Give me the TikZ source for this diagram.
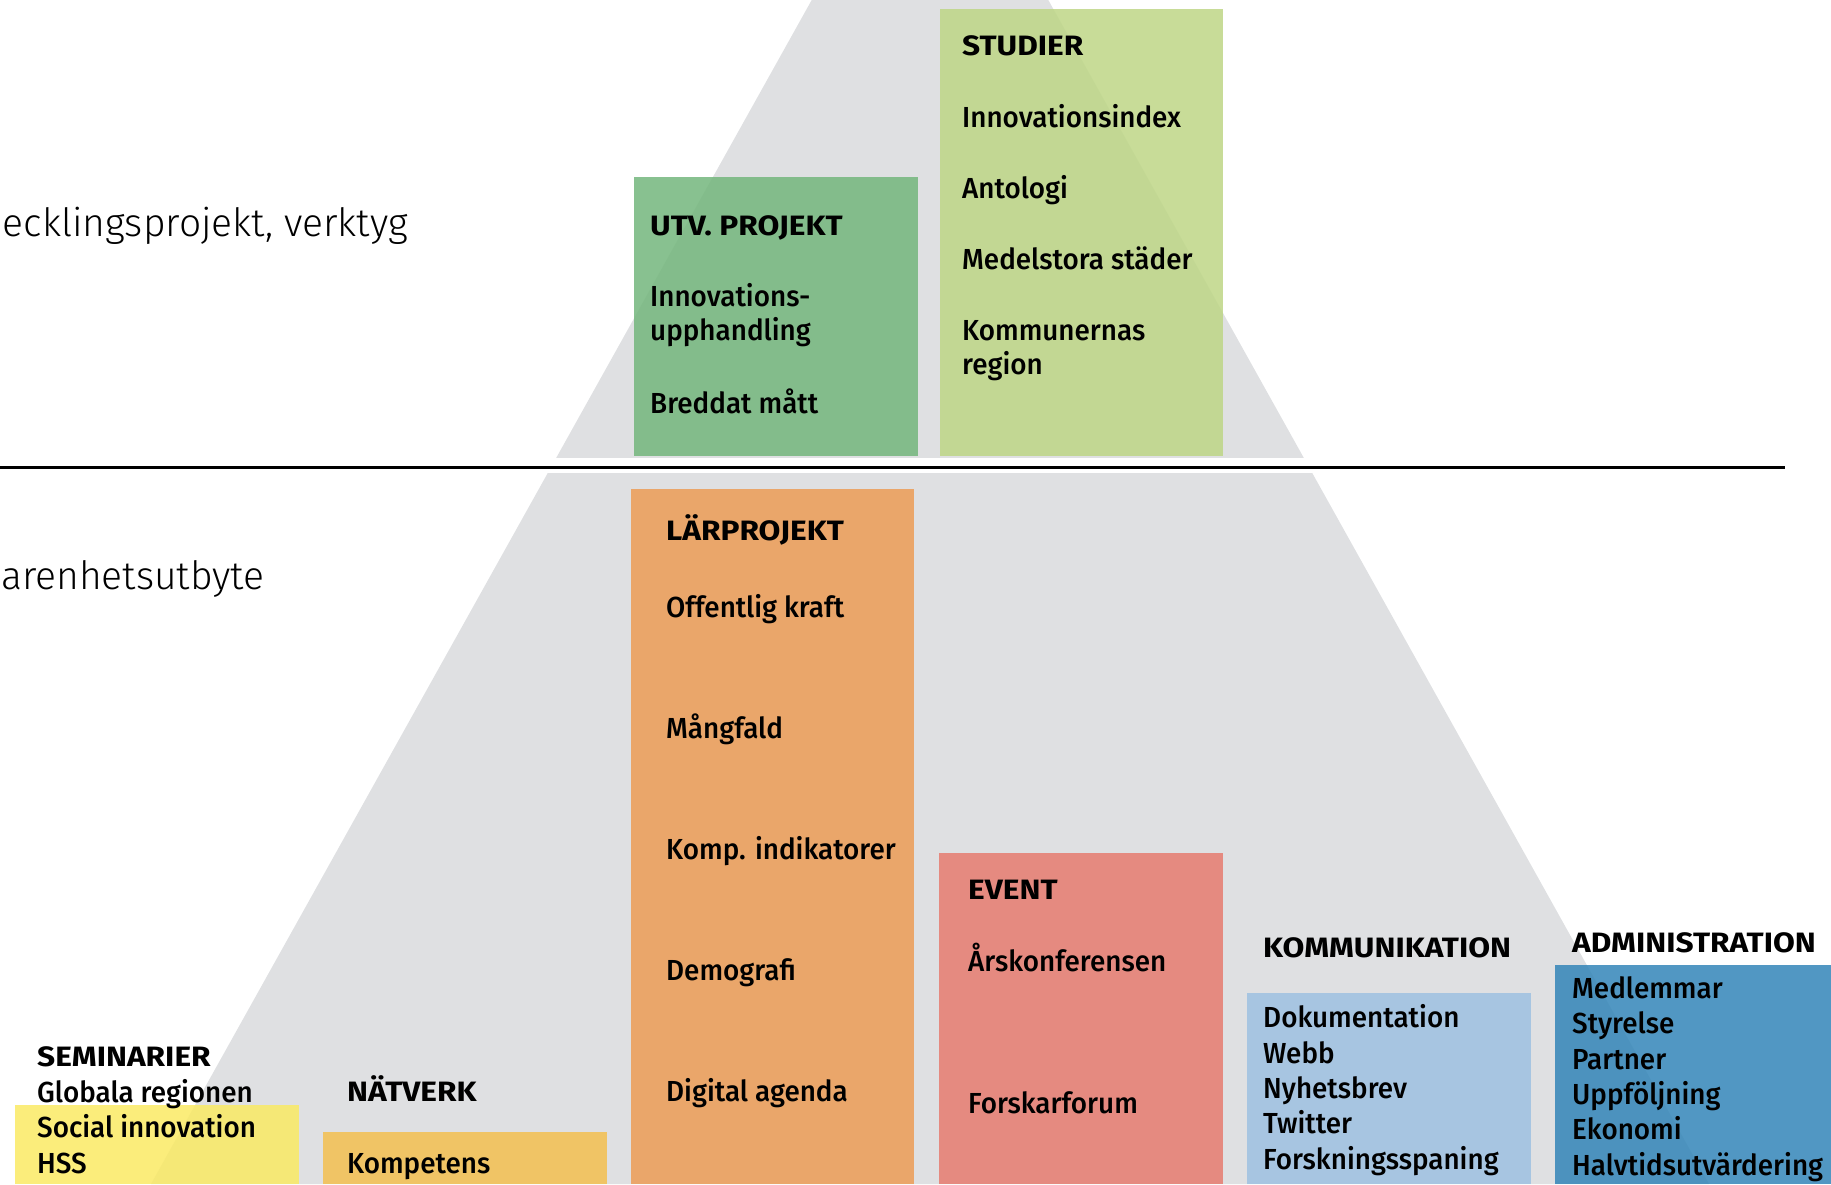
\documentclass[tikz,border=0pt]{standalone}
\usepackage{fontspec}
\IfFontExistsTF{Fira Sans Medium}
  {\setmainfont{Fira Sans Medium}[BoldFont={Fira Sans Bold}, FakeStretch=0.96]}
  {\setmainfont{Fira Sans}[FakeStretch=0.96]}
\IfFontExistsTF{Fira Sans Light}
  {\newfontfamily\lightfont{Fira Sans Light}}
  {\newfontfamily\lightfont{Fira Sans}}
\newfontfamily\headfont{Fira Sans}[FakeStretch=1.13]

\definecolor{pyrgrey}{RGB}{223,224,226}
\definecolor{utvgreen}{RGB}{115,182,124}
\definecolor{studgreen}{RGB}{190,214,134}
\definecolor{larorange}{RGB}{236,156,85}
\definecolor{eventred}{RGB}{231,124,112}
\definecolor{kommblue}{RGB}{158,193,225}
\definecolor{adminblue}{RGB}{51,133,184}
\definecolor{semyellow}{RGB}{250,234,100}
\definecolor{natorange}{RGB}{243,192,80}

\tikzset{
  box/.style={fill opacity=0.85},
  head/.style={anchor=base west, inner sep=0pt, font=\headfont\bfseries\fontsize{28}{34}\selectfont},
  item/.style={anchor=base west, inner sep=0pt, align=left, font=\fontsize{29}{34}\selectfont},
  list/.style={anchor=base west, inner sep=0pt, align=left, font=\fontsize{29}{35.3}\selectfont},
  side/.style={anchor=base east, inner sep=0pt, font=\lightfont\fontsize{39}{44}\selectfont}
}

\begin{document}
\begin{tikzpicture}[x=1pt, y=-1pt]
  \useasboundingbox (0,0) rectangle (1831,1184);

  % pyramid
  \fill[pyrgrey] (930,-212) -- (151,1184) -- (1709,1184) -- cycle;
  \fill[white] (0,458) rectangle (1831,473);
  \draw[line width=3pt] (0,467) -- (1785,467);

  \node[side] (utvside) at (408,236) {ecklingsprojekt, verktyg};
  \node[side, anchor=base west] (erfside) at (1,589) {arenhetsutbyte};

  % upper level
  \fill[box, utvgreen] (634,177) rectangle (918,456);
  \node[head] (utvhead) at (650,235) {UTV. PROJEKT};
  \node[item] (utvinnov) at (650,340) {Innovations-\\upphandling};
  \node[item] (utvbredd) at (650,413) {Breddat mått};

  \fill[box, studgreen] (940,9) rectangle (1223,456);
  \node[head] (studhead) at (962,55) {STUDIER};
  \node[item] (studindex) at (962,127) {Innovationsindex};
  \node[item] (studanto) at (962,198) {Antologi};
  \node[item] (studmedel) at (962,269) {Medelstora städer};
  \node[item] (studkomm) at (962,374) {Kommunernas\\region};

  % lower level
  \fill[box, larorange] (631,489) rectangle (914,1184);
  \node[head] (larhead) at (666,540) {LÄRPROJEKT};
  \node[item] (larkraft) at (666,617) {Offentlig kraft};
  \node[item] (larmang) at (666,738) {Mångfald};
  \node[item] (larkomp) at (666,859) {Komp. indikatorer};
  \node[item] (lardemo) at (666,980) {Demografi};
  \node[item] (lardig) at (666,1101) {Digital agenda};

  \fill[box, eventred] (939,853) rectangle (1223,1184);
  \node[head] (evhead) at (968,899) {EVENT};
  \node[item] (evkonf) at (968,971) {Årskonferensen};
  \node[item] (evforsk) at (968,1113) {Forskarforum};

  \fill[box, kommblue] (1247,993) rectangle (1531,1184);
  \node[head] (kommhead) at (1263,957) {KOMMUNIKATION};
  \node[list] (kommlist) at (1263,1169) {Dokumentation\\Webb\\Nyhetsbrev\\Twitter\\Forskningsspaning};

  \fill[box, adminblue] (1555,965) rectangle (1839,1184);
  \node[head] (adminhead) at (1572,952) {ADMINISTRATION};
  \node[list] (adminlist) at (1572,1175) {Medlemmar\\Styrelse\\Partner\\Uppföljning\\Ekonomi\\Halvtidsutvärdering};

  \fill[box, semyellow] (15,1105) rectangle (299,1184);
  \node[head] (semhead) at (37,1066) {SEMINARIER};
  \node[list] (semlist) at (37,1173) {Globala regionen\\Social innovation\\HSS};

  \fill[box, natorange] (323,1132) rectangle (607,1184);
  \node[head] (nathead) at (347,1101) {NÄTVERK};
  \node[item] (natkomp) at (347,1173) {Kompetens};
\end{tikzpicture}
\end{document}
